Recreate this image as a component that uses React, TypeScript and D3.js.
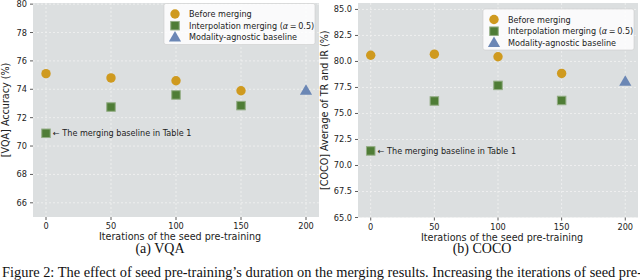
import React from 'react';
import * as d3 from 'd3';

// seed pre-training iterations
const iterations = [0, 50, 100, 150];
const interpIterations = [50, 100, 150];
const baselineIteration = 0;
const agnosticIteration = 200;
const xTicks = [0, 50, 100, 150, 200];

// VQA panel
const vqaBefore = [75.1, 74.8, 74.6, 73.9];
const vqaInterp = [72.75, 73.6, 72.85];
const vqaBaseline = 70.9;
const vqaAgnostic = 73.9;
const vqaTicks = [66, 68, 70, 72, 74, 76, 78, 80];

// COCO panel
const cocoBefore = [80.6, 80.7, 80.45, 78.85];
const cocoInterp = [76.2, 77.7, 76.25];
const cocoBaseline = 71.4;
const cocoAgnostic = 78.05;
const cocoTicks = [65, 67.5, 70, 72.5, 75, 77.5, 80, 82.5, 85];

const legendLabels = ['Before merging', 'Interpolation merging (', 'Modality-agnostic baseline'];

const GOLD = '#cf9a1f';
const GREEN = '#4f7d36';
const GREEN_EDGE = '#93ad84';
const BLUE = '#6b87b5';
const BG = '#dcdfe0';
const FONT = 'DejaVu Sans, Verdana, sans-serif';
const TICK_FS = 8.2;
const LEG_FS = 8.1;
const LABEL_FS = 9.6;

interface PanelProps {
  left: number;
  right: number;
  top: number;
  bottom: number;
  yDomain: [number, number];
  yTicks: number[];
  fmt: (v: number) => string;
  before: number[];
  interp: number[];
  baseline: number;
  agnostic: number;
  yLabel: string;
  yLabelX: number;
  caption: string;
  legendTop: number;
}

const Panel: React.FC<PanelProps> = (p) => {
  const x = d3.scaleLinear().domain([-10, 210]).range([p.left, p.right]);
  const y = d3.scaleLinear().domain(p.yDomain).range([p.bottom, p.top]);
  const tri = d3.symbol().type(d3.symbolTriangle).size(64)() || '';
  const sq = 8.5;
  const lgW = 151;
  const lgX = p.right - 4 - lgW;
  const rows = [p.legendTop + 10.5, p.legendTop + 22.2, p.legendTop + 33.9];
  const mx = lgX + 11;
  const cx = (p.left + p.right) / 2 + 4;

  return (
    <g fontFamily={FONT}>
      <rect x={p.left} y={p.top} width={p.right - p.left} height={p.bottom - p.top} fill={BG} />
      {/* grid */}
      {xTicks.map(t => (
        <line key={'gx' + t} x1={x(t)} x2={x(t)} y1={p.top} y2={p.bottom}
          stroke="#f2f3f3" strokeWidth={0.8} strokeDasharray="2,2" />
      ))}
      {p.yTicks.map(t => (
        <line key={'gy' + t} x1={p.left} x2={p.right} y1={y(t)} y2={y(t)}
          stroke="#f2f3f3" strokeWidth={0.8} strokeDasharray="2,2" />
      ))}
      {/* axes ticks */}
      {xTicks.map(t => (
        <g key={'xt' + t}>
          <line x1={x(t)} x2={x(t)} y1={p.bottom} y2={p.bottom + 3} stroke="#333" strokeWidth={0.8} />
          <text x={x(t)} y={p.bottom + 12} fontSize={TICK_FS} textAnchor="middle" fill="#222">{t}</text>
        </g>
      ))}
      {p.yTicks.map(t => (
        <g key={'yt' + t}>
          <line x1={p.left - 3} x2={p.left} y1={y(t)} y2={y(t)} stroke="#333" strokeWidth={0.8} />
          <text x={p.left - 6} y={y(t) + 3} fontSize={TICK_FS} textAnchor="end" fill="#222">{p.fmt(t)}</text>
        </g>
      ))}
      <text x={cx} y={p.bottom + 23} fontSize={LABEL_FS} textAnchor="middle" fill="#222">
        Iterations of the seed pre-training
      </text>
      <text transform={`translate(${p.yLabelX},${(p.top + p.bottom) / 2}) rotate(-90)`}
        fontSize={LABEL_FS} textAnchor="middle" fill="#222">{p.yLabel}</text>
      {/* marks */}
      {iterations.map((it, i) => (
        <circle key={'b' + it} cx={x(it)} cy={y(p.before[i])} r={4.7} fill={GOLD} />
      ))}
      {interpIterations.map((it, i) => (
        <rect key={'i' + it} x={x(it) - sq / 2} y={y(p.interp[i]) - sq / 2} width={sq} height={sq}
          fill={GREEN} stroke={GREEN_EDGE} strokeWidth={1} />
      ))}
      <rect x={x(baselineIteration) - sq / 2} y={y(p.baseline) - sq / 2} width={sq} height={sq}
        fill={GREEN} stroke={GREEN_EDGE} strokeWidth={1} />
      <text x={x(baselineIteration) + 7} y={y(p.baseline) + 3} fontSize={8.1} fill="#222">
        ← The merging baseline in Table 1
      </text>
      <path d={tri} transform={`translate(${x(agnosticIteration)},${y(p.agnostic) + 0.5})`} fill={BLUE} />
      {/* legend */}
      <rect x={lgX} y={p.legendTop} width={lgW} height={41} rx={2} fill="#ffffff" fillOpacity={0.85}
        stroke="#cccccc" strokeWidth={0.6} />
      <circle cx={mx} cy={rows[0]} r={4.7} fill={GOLD} />
      <rect x={mx - sq / 2} y={rows[1] - sq / 2} width={sq} height={sq} fill={GREEN} stroke={GREEN_EDGE} strokeWidth={1} />
      <path d={tri} transform={`translate(${mx},${rows[2] + 0.5})`} fill={BLUE} />
      <text x={mx + 14} y={rows[0] + 3} fontSize={LEG_FS} fill="#222">{legendLabels[0]}</text>
      <text x={mx + 14} y={rows[1] + 3} fontSize={LEG_FS} fill="#222">
        {legendLabels[1]}<tspan fontStyle="italic">α</tspan>{'\u2009=\u20090.5)'}
      </text>
      <text x={mx + 14} y={rows[2] + 3} fontSize={LEG_FS} fill="#222">{legendLabels[2]}</text>
      {/* caption */}
      <text x={cx - 20} y={253} fontSize={14} textAnchor="middle" fill="#111"
        fontFamily='Liberation Serif, Times New Roman, serif'>{p.caption}</text>
    </g>
  );
};

const App: React.FC = () => {
  return (
    <svg width={640} height={280} style={{ position: 'absolute', left: 0, top: 0, background: '#fff' }}>
      <Panel left={33} right={319} top={3} bottom={217} yDomain={[65, 80.08]} yTicks={vqaTicks}
        fmt={v => String(v)} before={vqaBefore} interp={vqaInterp} baseline={vqaBaseline}
        agnostic={vqaAgnostic} yLabel="[VQA] Accuracy (%)" yLabelX={9} caption="(a) VQA" legendTop={3.5} />
      <Panel left={358} right={638} top={3} bottom={217.5} yDomain={[65, 85.62]} yTicks={cocoTicks}
        fmt={v => v.toFixed(1)} before={cocoBefore} interp={cocoInterp} baseline={cocoBaseline}
        agnostic={cocoAgnostic} yLabel="[COCO] Average of TR and IR (%)" yLabelX={328} caption="(b) COCO" legendTop={9} />
      <text x={2} y={277} fontSize={14.5} fill="#111" textLength={640} lengthAdjust="spacingAndGlyphs"
        fontFamily='Liberation Serif, Times New Roman, serif'>
        Figure 2: The effect of seed pre-training’s duration on the merging results. Increasing the iterations of seed pre-
      </text>
    </svg>
  );
};

export default App;
